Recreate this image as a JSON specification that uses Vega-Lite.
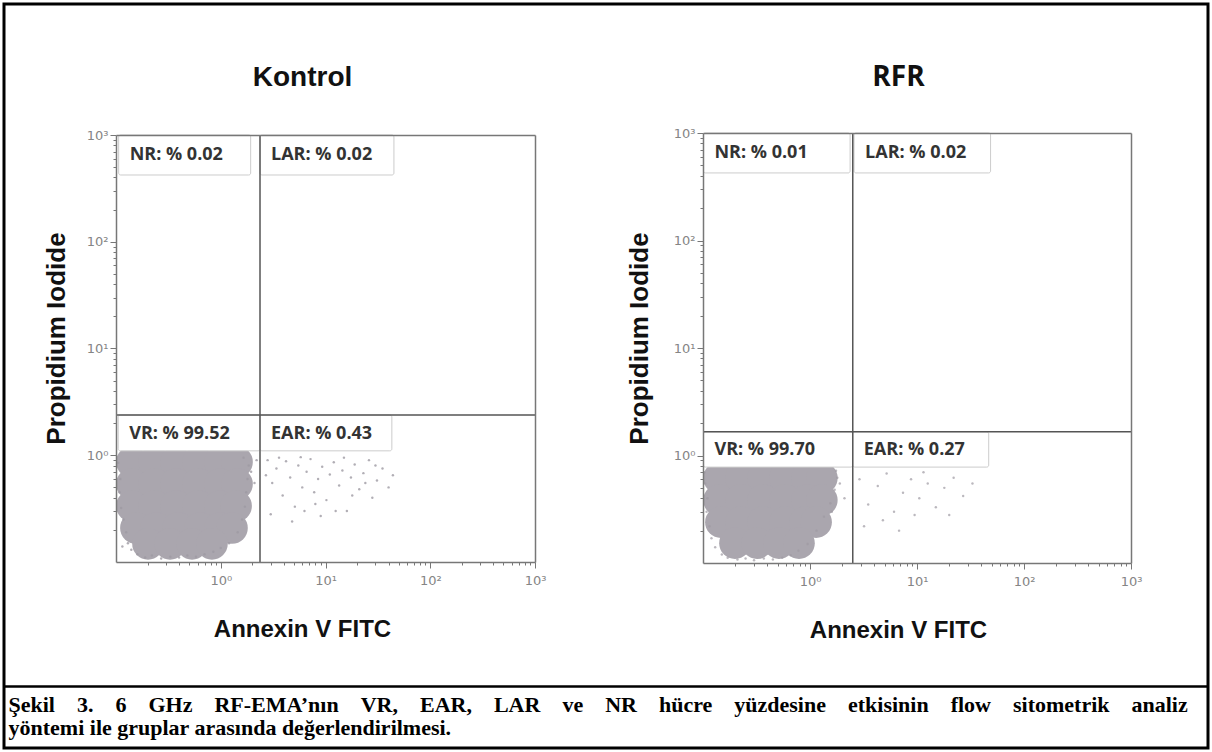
{
  "$schema": "https://vega.github.io/schema/vega-lite/v6.json",
  "width": 1204,
  "height": 744,
  "padding": {"left": 4, "top": 4, "right": 4, "bottom": 4},
  "autosize": {"type": "none"},
  "background": "white",
  "config": {"view": {"stroke": "#000000", "strokeWidth": 3}},
  "datasets": {
    "gates": [
      {"panel": "Kontrol", "gx": 2.37, "gy": 2.38},
      {"panel": "RFR", "gx": 2.51, "gy": 1.66}
    ],
    "quadrants": [
      {"panel": "Kontrol", "q": "NR", "label": "NR: % 0.02", "x1": 0.106, "x2": 1.93, "y1": 422, "y2": 1000, "ty": 650},
      {"panel": "Kontrol", "q": "LAR", "label": "LAR: % 0.02", "x1": 2.37, "x2": 45, "y1": 422, "y2": 1000, "ty": 650},
      {"panel": "Kontrol", "q": "VR", "label": "VR: % 99.52", "x1": 0.105, "x2": 2.37, "y1": 1.1, "y2": 2.38, "ty": 1.58},
      {"panel": "Kontrol", "q": "EAR", "label": "EAR: % 0.43", "x1": 2.37, "x2": 43, "y1": 1.1, "y2": 2.38, "ty": 1.58},
      {"panel": "RFR", "q": "NR", "label": "NR: % 0.01", "x1": 0.101, "x2": 2.37, "y1": 425, "y2": 1000, "ty": 652},
      {"panel": "RFR", "q": "LAR", "label": "LAR: % 0.02", "x1": 2.58, "x2": 48.7, "y1": 425, "y2": 1000, "ty": 652},
      {"panel": "RFR", "q": "VR", "label": "VR: % 99.70", "x1": 0.101, "x2": 2.51, "y1": 0.78, "y2": 1.66, "ty": 1.12},
      {"panel": "RFR", "q": "EAR", "label": "EAR: % 0.27", "x1": 2.51, "x2": 46.8, "y1": 0.78, "y2": 1.66, "ty": 1.12}
    ],
    "cloud": [
      {"panel": "Kontrol", "x": 0.142, "y": 0.865}, {"panel": "Kontrol", "x": 0.231, "y": 0.865}, {"panel": "Kontrol", "x": 0.374, "y": 0.865}, {"panel": "Kontrol", "x": 0.607, "y": 0.865}, {"panel": "Kontrol", "x": 0.984, "y": 0.865}, {"panel": "Kontrol", "x": 1.43, "y": 0.865},
      {"panel": "Kontrol", "x": 0.142, "y": 0.538}, {"panel": "Kontrol", "x": 0.231, "y": 0.538}, {"panel": "Kontrol", "x": 0.374, "y": 0.538}, {"panel": "Kontrol", "x": 0.607, "y": 0.538}, {"panel": "Kontrol", "x": 0.984, "y": 0.538}, {"panel": "Kontrol", "x": 1.43, "y": 0.538},
      {"panel": "Kontrol", "x": 0.142, "y": 0.335}, {"panel": "Kontrol", "x": 0.231, "y": 0.335}, {"panel": "Kontrol", "x": 0.374, "y": 0.335}, {"panel": "Kontrol", "x": 0.607, "y": 0.335}, {"panel": "Kontrol", "x": 0.984, "y": 0.335}, {"panel": "Kontrol", "x": 1.4, "y": 0.335},
      {"panel": "Kontrol", "x": 0.155, "y": 0.208}, {"panel": "Kontrol", "x": 0.241, "y": 0.208}, {"panel": "Kontrol", "x": 0.391, "y": 0.208}, {"panel": "Kontrol", "x": 0.634, "y": 0.208}, {"panel": "Kontrol", "x": 0.984, "y": 0.208}, {"panel": "Kontrol", "x": 1.28, "y": 0.208},
      {"panel": "Kontrol", "x": 0.202, "y": 0.148}, {"panel": "Kontrol", "x": 0.328, "y": 0.148}, {"panel": "Kontrol", "x": 0.532, "y": 0.148}, {"panel": "Kontrol", "x": 0.824, "y": 0.148},
      {"panel": "RFR", "x": 0.141, "y": 0.618}, {"panel": "RFR", "x": 0.226, "y": 0.618}, {"panel": "RFR", "x": 0.364, "y": 0.618}, {"panel": "RFR", "x": 0.583, "y": 0.618}, {"panel": "RFR", "x": 0.937, "y": 0.618}, {"panel": "RFR", "x": 1.29, "y": 0.618},
      {"panel": "RFR", "x": 0.141, "y": 0.385}, {"panel": "RFR", "x": 0.226, "y": 0.385}, {"panel": "RFR", "x": 0.364, "y": 0.385}, {"panel": "RFR", "x": 0.583, "y": 0.385}, {"panel": "RFR", "x": 0.937, "y": 0.385}, {"panel": "RFR", "x": 1.29, "y": 0.385},
      {"panel": "RFR", "x": 0.147, "y": 0.24}, {"panel": "RFR", "x": 0.226, "y": 0.24}, {"panel": "RFR", "x": 0.364, "y": 0.24}, {"panel": "RFR", "x": 0.583, "y": 0.24}, {"panel": "RFR", "x": 0.897, "y": 0.24}, {"panel": "RFR", "x": 1.14, "y": 0.24},
      {"panel": "RFR", "x": 0.199, "y": 0.153}, {"panel": "RFR", "x": 0.32, "y": 0.153}, {"panel": "RFR", "x": 0.513, "y": 0.153}, {"panel": "RFR", "x": 0.789, "y": 0.153}
    ],
    "events": [
      {"panel": "Kontrol", "x": 2.8, "y": 0.9}, {"panel": "Kontrol", "x": 3.1, "y": 0.55}, {"panel": "Kontrol", "x": 3.4, "y": 0.75}, {"panel": "Kontrol", "x": 3.9, "y": 0.42}, {"panel": "Kontrol", "x": 4.2, "y": 0.88}, {"panel": "Kontrol", "x": 4.6, "y": 0.62}, {"panel": "Kontrol", "x": 5.1, "y": 0.33}, {"panel": "Kontrol", "x": 5.5, "y": 0.8}, {"panel": "Kontrol", "x": 6.0, "y": 0.5}, {"panel": "Kontrol", "x": 6.6, "y": 0.7}, {"panel": "Kontrol", "x": 7.2, "y": 0.92}, {"panel": "Kontrol", "x": 7.8, "y": 0.45}, {"panel": "Kontrol", "x": 8.5, "y": 0.6}, {"panel": "Kontrol", "x": 9.3, "y": 0.78}, {"panel": "Kontrol", "x": 10.2, "y": 0.38}, {"panel": "Kontrol", "x": 11, "y": 0.66}, {"panel": "Kontrol", "x": 12, "y": 0.86}, {"panel": "Kontrol", "x": 13.5, "y": 0.52}, {"panel": "Kontrol", "x": 14.5, "y": 0.72}, {"panel": "Kontrol", "x": 16, "y": 0.3}, {"panel": "Kontrol", "x": 17.5, "y": 0.62}, {"panel": "Kontrol", "x": 19, "y": 0.82}, {"panel": "Kontrol", "x": 21, "y": 0.48}, {"panel": "Kontrol", "x": 23, "y": 0.68}, {"panel": "Kontrol", "x": 26, "y": 0.9}, {"panel": "Kontrol", "x": 28, "y": 0.4}, {"panel": "Kontrol", "x": 31, "y": 0.58}, {"panel": "Kontrol", "x": 35, "y": 0.75}, {"panel": "Kontrol", "x": 40, "y": 0.5}, {"panel": "Kontrol", "x": 44, "y": 0.65}, {"panel": "Kontrol", "x": 3.0, "y": 0.28}, {"panel": "Kontrol", "x": 4.8, "y": 0.24}, {"panel": "Kontrol", "x": 6.3, "y": 0.3}, {"panel": "Kontrol", "x": 9.0, "y": 0.27}, {"panel": "Kontrol", "x": 12.5, "y": 0.3}, {"panel": "Kontrol", "x": 2.7, "y": 0.65}, {"panel": "Kontrol", "x": 3.6, "y": 0.95}, {"panel": "Kontrol", "x": 5.8, "y": 0.96}, {"panel": "Kontrol", "x": 8.0, "y": 0.35}, {"panel": "Kontrol", "x": 15, "y": 0.95}, {"panel": "Kontrol", "x": 18, "y": 0.42}, {"panel": "Kontrol", "x": 24, "y": 0.55}, {"panel": "Kontrol", "x": 30, "y": 0.8},
      {"panel": "Kontrol", "x": 0.105, "y": 0.85}, {"panel": "Kontrol", "x": 0.11, "y": 0.6}, {"panel": "Kontrol", "x": 0.108, "y": 0.45}, {"panel": "Kontrol", "x": 0.112, "y": 0.32}, {"panel": "Kontrol", "x": 0.118, "y": 0.25}, {"panel": "Kontrol", "x": 0.125, "y": 0.19}, {"panel": "Kontrol", "x": 0.13, "y": 0.15}, {"panel": "Kontrol", "x": 0.14, "y": 0.13}, {"panel": "Kontrol", "x": 0.16, "y": 0.118}, {"panel": "Kontrol", "x": 0.19, "y": 0.11}, {"panel": "Kontrol", "x": 0.22, "y": 0.115}, {"panel": "Kontrol", "x": 0.27, "y": 0.108}, {"panel": "Kontrol", "x": 0.33, "y": 0.112}, {"panel": "Kontrol", "x": 0.4, "y": 0.11}, {"panel": "Kontrol", "x": 0.48, "y": 0.115}, {"panel": "Kontrol", "x": 0.58, "y": 0.112}, {"panel": "Kontrol", "x": 0.7, "y": 0.118}, {"panel": "Kontrol", "x": 0.85, "y": 0.125}, {"panel": "Kontrol", "x": 1.0, "y": 0.135}, {"panel": "Kontrol", "x": 1.2, "y": 0.15}, {"panel": "Kontrol", "x": 1.45, "y": 0.19}, {"panel": "Kontrol", "x": 1.6, "y": 0.25}, {"panel": "Kontrol", "x": 1.7, "y": 0.33}, {"panel": "Kontrol", "x": 1.75, "y": 0.45}, {"panel": "Kontrol", "x": 1.8, "y": 0.6}, {"panel": "Kontrol", "x": 1.85, "y": 0.8}, {"panel": "Kontrol", "x": 1.95, "y": 0.7}, {"panel": "Kontrol", "x": 2.1, "y": 0.55}, {"panel": "Kontrol", "x": 1.65, "y": 0.95}, {"panel": "Kontrol", "x": 0.115, "y": 0.14}, {"panel": "Kontrol", "x": 2.2, "y": 0.9},
      {"panel": "RFR", "x": 2.9, "y": 0.6}, {"panel": "RFR", "x": 3.5, "y": 0.35}, {"panel": "RFR", "x": 4.3, "y": 0.52}, {"panel": "RFR", "x": 5.2, "y": 0.68}, {"panel": "RFR", "x": 6.1, "y": 0.3}, {"panel": "RFR", "x": 7.4, "y": 0.45}, {"panel": "RFR", "x": 8.8, "y": 0.6}, {"panel": "RFR", "x": 10.5, "y": 0.4}, {"panel": "RFR", "x": 12.6, "y": 0.55}, {"panel": "RFR", "x": 15, "y": 0.33}, {"panel": "RFR", "x": 18, "y": 0.5}, {"panel": "RFR", "x": 22, "y": 0.62}, {"panel": "RFR", "x": 27, "y": 0.42}, {"panel": "RFR", "x": 33, "y": 0.55}, {"panel": "RFR", "x": 3.2, "y": 0.22}, {"panel": "RFR", "x": 4.8, "y": 0.25}, {"panel": "RFR", "x": 6.8, "y": 0.2}, {"panel": "RFR", "x": 9.5, "y": 0.28}, {"panel": "RFR", "x": 11.5, "y": 0.7}, {"panel": "RFR", "x": 20, "y": 0.28},
      {"panel": "RFR", "x": 0.105, "y": 0.55}, {"panel": "RFR", "x": 0.11, "y": 0.4}, {"panel": "RFR", "x": 0.108, "y": 0.3}, {"panel": "RFR", "x": 0.115, "y": 0.22}, {"panel": "RFR", "x": 0.12, "y": 0.17}, {"panel": "RFR", "x": 0.13, "y": 0.14}, {"panel": "RFR", "x": 0.15, "y": 0.12}, {"panel": "RFR", "x": 0.17, "y": 0.112}, {"panel": "RFR", "x": 0.21, "y": 0.108}, {"panel": "RFR", "x": 0.25, "y": 0.11}, {"panel": "RFR", "x": 0.3, "y": 0.106}, {"panel": "RFR", "x": 0.37, "y": 0.11}, {"panel": "RFR", "x": 0.45, "y": 0.108}, {"panel": "RFR", "x": 0.55, "y": 0.112}, {"panel": "RFR", "x": 0.66, "y": 0.118}, {"panel": "RFR", "x": 0.78, "y": 0.13}, {"panel": "RFR", "x": 0.95, "y": 0.15}, {"panel": "RFR", "x": 1.15, "y": 0.2}, {"panel": "RFR", "x": 1.35, "y": 0.27}, {"panel": "RFR", "x": 1.55, "y": 0.36}, {"panel": "RFR", "x": 1.7, "y": 0.48}, {"panel": "RFR", "x": 1.8, "y": 0.62}, {"panel": "RFR", "x": 1.75, "y": 0.72}, {"panel": "RFR", "x": 1.9, "y": 0.55}, {"panel": "RFR", "x": 2.1, "y": 0.4}, {"panel": "RFR", "x": 1.6, "y": 0.3}, {"panel": "RFR", "x": 0.103, "y": 0.7}
    ]
  },
  "layer": [
    {
      "resolve": {"axis": {"x": "independent", "y": "independent"}},
      "layer": [
        {
          "data": {"name": "cloud"},
          "transform": [{"filter": "datum.panel == 'Kontrol'"}],
          "mark": {"type": "point", "filled": true, "size": 1000, "color": "#aaa6ae", "opacity": 1, "strokeWidth": 0},
          "encoding": {
            "x": {"field": "x", "type": "quantitative", "scale": {"type": "log", "domain": [0.1, 1000], "range": [112, 531], "nice": false},
              "axis": {"orient": "bottom", "offset": -186, "zindex": 1, "grid": false,
                "values": [0.2,0.3,0.4,0.5,0.6,0.7,0.8,0.9,1,2,3,4,5,6,7,8,9,10,20,30,40,50,60,70,80,90,100,200,300,400,500,600,700,800,900,1000],
                "labelExpr": "datum.value == 1 ? '10⁰' : datum.value == 10 ? '10¹' : datum.value == 100 ? '10²' : datum.value == 1000 ? '10³' : ''",
                "labelOverlap": false, "labelFlush": false, "labelFont": "DejaVu Sans", "labelFontSize": 13, "labelColor": "#858585", "labelPadding": 6,
                "domainColor": "#777777", "domainWidth": 1.5, "tickColor": "#777777", "tickWidth": 1,
                "tickSize": {"condition": {"test": "datum.value == 1 || datum.value == 10 || datum.value == 100 || datum.value == 1000", "value": 6}, "value": 3},
                "title": "Annexin V FITC", "titleFont": "Liberation Sans", "titleFontWeight": "bold", "titleFontSize": 24, "titleColor": "#111111",
                "titleX": 298, "titleY": 74, "titleAlign": "center", "titleBaseline": "alphabetic"}},
            "y": {"field": "y", "type": "quantitative", "scale": {"type": "log", "domain": [0.1, 1000], "range": [558, 131], "nice": false},
              "axis": {"orient": "left", "offset": -112, "zindex": 1, "grid": false,
                "values": [0.2,0.3,0.4,0.5,0.6,0.7,0.8,0.9,1,2,3,4,5,6,7,8,9,10,20,30,40,50,60,70,80,90,100,200,300,400,500,600,700,800,900,1000],
                "labelExpr": "datum.value == 1 ? '10⁰' : datum.value == 10 ? '10¹' : datum.value == 100 ? '10²' : datum.value == 1000 ? '10³' : ''",
                "labelOverlap": false, "labelFlush": false, "labelFont": "DejaVu Sans", "labelFontSize": 13, "labelColor": "#858585", "labelPadding": 2,
                "domainColor": "#777777", "domainWidth": 1.5, "tickColor": "#777777", "tickWidth": 1,
                "tickSize": {"condition": {"test": "datum.value == 1 || datum.value == 10 || datum.value == 100 || datum.value == 1000", "value": 6}, "value": 3},
                "title": "Propidium Iodide", "titleFont": "Liberation Sans", "titleFontWeight": "bold", "titleFontSize": 26, "titleColor": "#111111",
                "titleX": -60, "titleY": 334, "titleAngle": -90, "titleAlign": "center", "titleBaseline": "middle"}}
          }
        },
        {
          "data": {"name": "events"},
          "transform": [{"filter": "datum.panel == 'Kontrol'"}],
          "mark": {"type": "point", "filled": true, "size": 6, "color": "#9e9aa3", "opacity": 0.8},
          "encoding": {
            "x": {"field": "x", "type": "quantitative", "scale": {"type": "log", "domain": [0.1, 1000], "range": [112, 531], "nice": false},
              "axis": {"orient": "top", "offset": -131, "zindex": 1, "grid": false, "ticks": false, "labels": false,
                "domainColor": "#777777", "domainWidth": 1.5,
                "title": "Kontrol", "titleFont": "Liberation Sans", "titleFontWeight": "bold", "titleFontSize": 28, "titleColor": "#111111",
                "titleX": 298, "titleY": -50, "titleAlign": "center", "titleBaseline": "alphabetic"}},
            "y": {"field": "y", "type": "quantitative", "scale": {"type": "log", "domain": [0.1, 1000], "range": [558, 131], "nice": false},
              "axis": {"orient": "right", "offset": -673, "zindex": 1, "grid": false, "ticks": false, "labels": false, "title": null,
                "domainColor": "#777777", "domainWidth": 1.5}}
          }
        },
        {
          "data": {"name": "quadrants"},
          "transform": [{"filter": "datum.panel == 'Kontrol'"}],
          "mark": {"type": "rect", "fill": "white", "stroke": "#cccccc", "strokeWidth": 1, "cornerRadius": 2},
          "encoding": {
            "x": {"field": "x1", "type": "quantitative", "scale": {"type": "log", "domain": [0.1, 1000], "range": [112, 531], "nice": false}, "axis": null},
            "x2": {"field": "x2"},
            "y": {"field": "y1", "type": "quantitative", "scale": {"type": "log", "domain": [0.1, 1000], "range": [558, 131], "nice": false}, "axis": null},
            "y2": {"field": "y2"}
          }
        },
        {
          "data": {"name": "gates"},
          "transform": [{"filter": "datum.panel == 'Kontrol'"}],
          "mark": {"type": "rule", "color": "#555555", "strokeWidth": 1.5},
          "encoding": {
            "x": {"field": "gx", "type": "quantitative", "scale": {"type": "log", "domain": [0.1, 1000], "range": [112, 531], "nice": false}, "axis": null},
            "y": {"datum": 0.1, "type": "quantitative", "scale": {"type": "log", "domain": [0.1, 1000], "range": [558, 131], "nice": false}, "axis": null},
            "y2": {"datum": 1000}
          }
        },
        {
          "data": {"name": "gates"},
          "transform": [{"filter": "datum.panel == 'Kontrol'"}],
          "mark": {"type": "rule", "color": "#555555", "strokeWidth": 1.5},
          "encoding": {
            "y": {"field": "gy", "type": "quantitative", "scale": {"type": "log", "domain": [0.1, 1000], "range": [558, 131], "nice": false}, "axis": null},
            "x": {"datum": 0.1, "type": "quantitative", "scale": {"type": "log", "domain": [0.1, 1000], "range": [112, 531], "nice": false}, "axis": null},
            "x2": {"datum": 1000}
          }
        },
        {
          "data": {"name": "quadrants"},
          "transform": [{"filter": "datum.panel == 'Kontrol'"}],
          "mark": {"type": "text", "align": "left", "baseline": "middle", "dx": 11, "font": "Open Sans", "fontWeight": "bold", "fontSize": 18, "color": "#333333"},
          "encoding": {
            "x": {"field": "x1", "type": "quantitative", "scale": {"type": "log", "domain": [0.1, 1000], "range": [112, 531], "nice": false}, "axis": null},
            "y": {"field": "ty", "type": "quantitative", "scale": {"type": "log", "domain": [0.1, 1000], "range": [558, 131], "nice": false}, "axis": null},
            "text": {"field": "label"}
          }
        }
      ]
    },
    {
      "resolve": {"axis": {"x": "independent", "y": "independent"}},
      "layer": [
        {
          "data": {"name": "cloud"},
          "transform": [{"filter": "datum.panel == 'RFR'"}],
          "mark": {"type": "point", "filled": true, "size": 1000, "color": "#aaa6ae", "opacity": 1, "strokeWidth": 0},
          "encoding": {
            "x": {"field": "x", "type": "quantitative", "scale": {"type": "log", "domain": [0.1, 1000], "range": [699, 1127], "nice": false},
              "axis": {"orient": "bottom", "offset": -185, "zindex": 1, "grid": false,
                "values": [0.2,0.3,0.4,0.5,0.6,0.7,0.8,0.9,1,2,3,4,5,6,7,8,9,10,20,30,40,50,60,70,80,90,100,200,300,400,500,600,700,800,900,1000],
                "labelExpr": "datum.value == 1 ? '10⁰' : datum.value == 10 ? '10¹' : datum.value == 100 ? '10²' : datum.value == 1000 ? '10³' : ''",
                "labelOverlap": false, "labelFlush": false, "labelFont": "DejaVu Sans", "labelFontSize": 13, "labelColor": "#858585", "labelPadding": 6,
                "domainColor": "#777777", "domainWidth": 1.5, "tickColor": "#777777", "tickWidth": 1,
                "tickSize": {"condition": {"test": "datum.value == 1 || datum.value == 10 || datum.value == 100 || datum.value == 1000", "value": 6}, "value": 3},
                "title": "Annexin V FITC", "titleFont": "Liberation Sans", "titleFontWeight": "bold", "titleFontSize": 24, "titleColor": "#111111",
                "titleX": 894, "titleY": 74, "titleAlign": "center", "titleBaseline": "alphabetic"}},
            "y": {"field": "y", "type": "quantitative", "scale": {"type": "log", "domain": [0.1, 1000], "range": [559, 129], "nice": false},
              "axis": {"orient": "left", "offset": -699, "zindex": 1, "grid": false,
                "values": [0.2,0.3,0.4,0.5,0.6,0.7,0.8,0.9,1,2,3,4,5,6,7,8,9,10,20,30,40,50,60,70,80,90,100,200,300,400,500,600,700,800,900,1000],
                "labelExpr": "datum.value == 1 ? '10⁰' : datum.value == 10 ? '10¹' : datum.value == 100 ? '10²' : datum.value == 1000 ? '10³' : ''",
                "labelOverlap": false, "labelFlush": false, "labelFont": "DejaVu Sans", "labelFontSize": 13, "labelColor": "#858585", "labelPadding": 2,
                "domainColor": "#777777", "domainWidth": 1.5, "tickColor": "#777777", "tickWidth": 1,
                "tickSize": {"condition": {"test": "datum.value == 1 || datum.value == 10 || datum.value == 100 || datum.value == 1000", "value": 6}, "value": 3},
                "title": "Propidium Iodide", "titleFont": "Liberation Sans", "titleFontWeight": "bold", "titleFontSize": 26, "titleColor": "#111111",
                "titleX": -64, "titleY": 334, "titleAngle": -90, "titleAlign": "center", "titleBaseline": "middle"}}
          }
        },
        {
          "data": {"name": "events"},
          "transform": [{"filter": "datum.panel == 'RFR'"}],
          "mark": {"type": "point", "filled": true, "size": 6, "color": "#9e9aa3", "opacity": 0.7},
          "encoding": {
            "x": {"field": "x", "type": "quantitative", "scale": {"type": "log", "domain": [0.1, 1000], "range": [699, 1127], "nice": false},
              "axis": {"orient": "top", "offset": -129, "zindex": 1, "grid": false, "ticks": false, "labels": false,
                "domainColor": "#777777", "domainWidth": 1.5,
                "title": "RFR", "titleFont": "Open Sans", "titleFontWeight": "bold", "titleFontSize": 28, "titleColor": "#111111",
                "titleX": 894, "titleY": -48, "titleAlign": "center", "titleBaseline": "alphabetic"}},
            "y": {"field": "y", "type": "quantitative", "scale": {"type": "log", "domain": [0.1, 1000], "range": [559, 129], "nice": false},
              "axis": {"orient": "right", "offset": -77, "zindex": 1, "grid": false, "ticks": false, "labels": false, "title": null,
                "domainColor": "#777777", "domainWidth": 1.5}}
          }
        },
        {
          "data": {"name": "quadrants"},
          "transform": [{"filter": "datum.panel == 'RFR'"}],
          "mark": {"type": "rect", "fill": "white", "stroke": "#cccccc", "strokeWidth": 1, "cornerRadius": 2},
          "encoding": {
            "x": {"field": "x1", "type": "quantitative", "scale": {"type": "log", "domain": [0.1, 1000], "range": [699, 1127], "nice": false}, "axis": null},
            "x2": {"field": "x2"},
            "y": {"field": "y1", "type": "quantitative", "scale": {"type": "log", "domain": [0.1, 1000], "range": [559, 129], "nice": false}, "axis": null},
            "y2": {"field": "y2"}
          }
        },
        {
          "data": {"name": "gates"},
          "transform": [{"filter": "datum.panel == 'RFR'"}],
          "mark": {"type": "rule", "color": "#555555", "strokeWidth": 1.5},
          "encoding": {
            "x": {"field": "gx", "type": "quantitative", "scale": {"type": "log", "domain": [0.1, 1000], "range": [699, 1127], "nice": false}, "axis": null},
            "y": {"datum": 0.1, "type": "quantitative", "scale": {"type": "log", "domain": [0.1, 1000], "range": [559, 129], "nice": false}, "axis": null},
            "y2": {"datum": 1000}
          }
        },
        {
          "data": {"name": "gates"},
          "transform": [{"filter": "datum.panel == 'RFR'"}],
          "mark": {"type": "rule", "color": "#555555", "strokeWidth": 1.5},
          "encoding": {
            "y": {"field": "gy", "type": "quantitative", "scale": {"type": "log", "domain": [0.1, 1000], "range": [559, 129], "nice": false}, "axis": null},
            "x": {"datum": 0.1, "type": "quantitative", "scale": {"type": "log", "domain": [0.1, 1000], "range": [699, 1127], "nice": false}, "axis": null},
            "x2": {"datum": 1000}
          }
        },
        {
          "data": {"name": "quadrants"},
          "transform": [{"filter": "datum.panel == 'RFR'"}],
          "mark": {"type": "text", "align": "left", "baseline": "middle", "dx": 11, "font": "Open Sans", "fontWeight": "bold", "fontSize": 18, "color": "#333333"},
          "encoding": {
            "x": {"field": "x1", "type": "quantitative", "scale": {"type": "log", "domain": [0.1, 1000], "range": [699, 1127], "nice": false}, "axis": null},
            "y": {"field": "ty", "type": "quantitative", "scale": {"type": "log", "domain": [0.1, 1000], "range": [559, 129], "nice": false}, "axis": null},
            "text": {"field": "label"}
          }
        }
      ]
    },
    {
      "data": {"name": "gates"},
      "mark": {"type": "point", "opacity": 0},
      "encoding": {
        "x": {"field": "gx", "type": "quantitative", "scale": {"domain": [0, 10], "range": [0, 1204], "nice": false},
          "axis": {"orient": "bottom", "offset": -62, "zindex": 1, "grid": false, "ticks": false, "labels": false,
            "domainColor": "#000000", "domainWidth": 2.5,
            "title": ["Şekil\u20033.\u20036\u2003GHz\u2003RF-EMA’nın\u2003VR,\u2003EAR,\u2003LAR\u2003ve\u2003NR\u2003hücre\u2003yüzdesine\u2003etkisinin\u2003flow\u2003sitometrik\u2003analiz", "yöntemi ile gruplar arasında değerlendirilmesi."],
            "titleFont": "Liberation Serif", "titleFontWeight": "bold", "titleFontSize": 22, "titleColor": "#000000",
            "titleX": 4, "titleY": 25, "titleAlign": "left", "titleBaseline": "alphabetic", "titleLineHeight": 23}}
      }
    }
  ],
  "resolve": {"scale": {"x": "independent", "y": "independent"}, "axis": {"x": "independent", "y": "independent"}}
}
